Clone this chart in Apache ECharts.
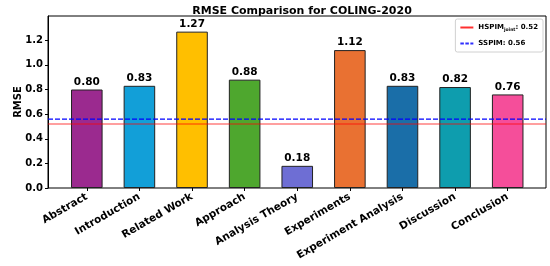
<!DOCTYPE html>
<html>
<head>
<meta charset="utf-8">
<script src="https://cdn.jsdelivr.net/npm/echarts@6/dist/echarts.min.js"></script>
<style>
  html, body { margin: 0; padding: 0; background: #fff; }
  #chart { width: 550px; height: 266px; }
</style>
</head>
<body>
<div id="chart"></div>
<script>
var sections = ["Abstract", "Introduction", "Related Work", "Approach", "Analysis Theory",
  "Experiments", "Experiment Analysis", "Discussion", "Conclusion"];
var rmse = [0.80, 0.83, 1.27, 0.88, 0.18, 1.12, 0.83, 0.82, 0.76];
var barColors = ["#9b2a8f", "#129fd8", "#ffbf00", "#4ea72e", "#6e6ed4",
  "#e97132", "#1a6ea8", "#0e9dae", "#f54e9a"];
var hspimJoint = 0.52;
var sspim = 0.56;

var font = "DejaVu Sans";
var yMax = 1.397;

var myChart = echarts.init(document.getElementById("chart"), null, { renderer: "canvas" });

// legend icons: a solid and a dashed line segment
var solidIcon = "path://M0,0h13v2h-13z";
var dashIcon = "path://M0,0h3.5v2h-3.5z M5,0h3.5v2h-3.5z M10,0h3v2h-3z";

// horizontal reference line across the whole plot frame (grid 1, x from 0 to 1)
function hline(v) {
  return [[0, v], [1, v]];
}

var option = {
  animation: false,
  textStyle: { fontFamily: font },
  title: {
    text: "RMSE Comparison for COLING-2020",
    left: 297,
    textAlign: "center",
    top: 1,
    textStyle: { fontFamily: font, fontWeight: "bold", fontSize: 11, color: "#000" }
  },
  legend: {
    right: 7,
    top: 19,
    orient: "vertical",
    itemWidth: 13,
    itemHeight: 2,
    itemGap: 8,
    padding: [5, 5],
    borderColor: "#d0d0d0",
    borderWidth: 1,
    borderRadius: 2,
    backgroundColor: "rgba(255,255,255,0.8)",
    data: [
      { name: "hspim", icon: solidIcon, itemStyle: { color: "#ff3030" } },
      { name: "sspim", icon: dashIcon, itemStyle: { color: "#3030ff" } }
    ],
    formatter: function (name) {
      if (name === "hspim") return "{b|HSPIM}{s|joint}{b|: " + hspimJoint.toFixed(2) + "}";
      return "{b|SSPIM: " + sspim.toFixed(2) + "}";
    },
    textStyle: {
      rich: {
        b: { fontFamily: font, fontWeight: "bold", fontSize: 7, color: "#000" },
        s: { fontFamily: font, fontWeight: "bold", fontSize: 4.5, color: "#000", verticalAlign: "bottom", padding: [4, 0, 0, 0] }
      }
    }
  },
  grid: [
    { left: 60.5, right: 16, top: 16, bottom: 78 },
    { left: 48, right: 4, top: 16, bottom: 78, show: true, borderColor: "#000", borderWidth: 1, z: 0 }
  ],
  xAxis: [
    {
      type: "category",
      gridIndex: 0,
      data: sections,
      axisLine: { show: false },
      axisTick: { show: true, alignWithLabel: true, length: 3, lineStyle: { color: "#000" } },
      axisLabel: {
        rotate: 30,
        interval: 0,
        margin: 8,
        fontFamily: font,
        fontWeight: "bold",
        fontSize: 10.5,
        color: "#000"
      }
    },
    {
      type: "value",
      gridIndex: 1,
      min: 0,
      max: 1,
      show: false
    }
  ],
  yAxis: [
    {
      type: "value",
      gridIndex: 0,
      min: 0,
      max: yMax,
      show: false,
      splitLine: { show: false }
    },
    {
      type: "value",
      gridIndex: 1,
      min: 0,
      max: yMax,
      interval: 0.2,
      name: "RMSE",
      nameLocation: "middle",
      nameGap: 25,
      nameMoveOverlap: false,
      nameTextStyle: { fontFamily: font, fontWeight: "bold", fontSize: 10, color: "#000" },
      axisLine: { show: true, lineStyle: { color: "#000" } },
      axisTick: { show: true, length: 3, lineStyle: { color: "#000" } },
      splitLine: { show: false },
      axisLabel: {
        fontFamily: font,
        fontWeight: "bold",
        fontSize: 10,
        color: "#000",
        margin: 5,
        showMaxLabel: false,
        formatter: function (v) { return v.toFixed(1); }
      }
    }
  ],
  series: [
    {
      type: "bar",
      xAxisIndex: 0,
      yAxisIndex: 0,
      barWidth: "60%",
      z: 3,
      data: rmse.map(function (v, i) {
        return { value: v, itemStyle: { color: barColors[i], borderColor: "#222", borderWidth: 1 } };
      }),
      label: {
        show: true,
        position: "top",
        distance: 2,
        fontFamily: font,
        fontWeight: "bold",
        fontSize: 10.5,
        color: "#000",
        formatter: function (p) { return p.value.toFixed(2); }
      }
    },
    {
      name: "hspim",
      type: "line",
      xAxisIndex: 1,
      yAxisIndex: 1,
      data: hline(hspimJoint),
      symbol: "none",
      silent: true,
      itemStyle: { color: "#ff3030" },
      lineStyle: { color: "rgba(255,0,0,0.75)", type: "solid", width: 1.2 },
      z: 5
    },
    {
      name: "sspim",
      type: "line",
      xAxisIndex: 1,
      yAxisIndex: 1,
      data: hline(sspim),
      symbol: "none",
      silent: true,
      itemStyle: { color: "#0000ff" },
      lineStyle: { color: "#0000ff", type: [5, 2], width: 1.2 },
      z: 5
    }
  ]
};

myChart.setOption(option);
</script>
</body>
</html>
